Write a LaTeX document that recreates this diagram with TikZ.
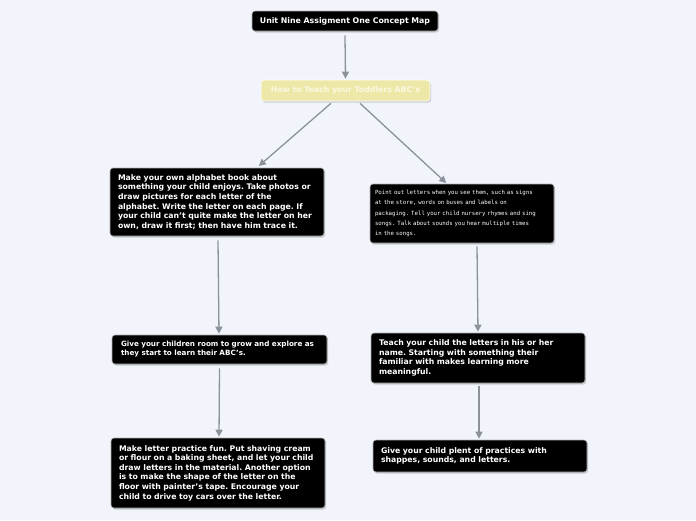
\documentclass[tikz,border=0pt]{standalone}
\usepackage{fontspec}
\setmainfont{DejaVu Sans}
\newfontfamily\monofont{DejaVu Sans Mono}
\usetikzlibrary{arrows.meta,shadows}
\frenchspacing
\definecolor{bg}{HTML}{F1F4FB}
\definecolor{conn}{HTML}{8C929C}
\definecolor{yel}{HTML}{EEE8A8}
\definecolor{yeltext}{HTML}{FBF8E2}
\tikzset{
  box/.style={draw=gray!60, line width=0.6pt, fill=black, rounded corners=3pt, text=white,
    font=\bfseries\fontsize{7.75}{9.6}\selectfont, align=left, inner xsep=8pt, inner ysep=0pt,
    drop shadow={shadow xshift=1.2pt, shadow yshift=-1.5pt, opacity=0.35, fill=gray}},
  conn/.style={draw=conn, line width=1.3pt, -{Triangle[length=7pt,width=7pt]}, shorten >=1pt},
}
\begin{document}
\begin{tikzpicture}[x=1pt,y=-1pt]
\fill[bg] (0,0) rectangle (696,520);
\useasboundingbox (0,0) rectangle (696,520);

\node[box, minimum width=186pt, minimum height=20pt, align=center, inner xsep=2pt, font=\bfseries\fontsize{7.8}{9}\selectfont] (title) at (345,21) {Unit Nine Assigment One Concept Map};

\node[box, fill=yel, draw=white, text=yeltext, minimum width=169pt, minimum height=21pt, align=center, inner xsep=2pt, font=\bfseries\fontsize{7.8}{9}\selectfont] (how) at (345.5,90.5) {How to Teach your Toddlers ABC’s};

\node[box, minimum width=214pt, minimum height=68pt, text width=198pt] (l1) at (217,202) {Make your own alphabet book about\\something your child enjoys. Take photos or\\draw pictures for each letter of the\\alphabet. Write the letter on each page. If\\your child can’t quite make the letter on her\\own, draw it first; then have him trace it.};

\node[box, minimum width=184pt, minimum height=59pt, text width=174pt, inner xsep=5pt, font=\monofont\fontsize{5.7}{10.4}\selectfont] (r1) at (462,213.5) {Point out letters when you see them, such as signs\\at the store, words on buses and labels on\\packaging. Tell your child nursery rhymes and sing\\songs. Talk about sounds you hear multiple times\\in the songs.};

\node[box, minimum width=215pt, minimum height=29pt, text width=197pt, inner xsep=9pt, font=\bfseries\fontsize{7.2}{9}\selectfont] (l2) at (219.5,349.5) {Give your children room to grow and explore as\\they start to learn their ABC’s.};

\node[box, minimum width=214pt, minimum height=50pt, text width=198pt] (r2) at (478,358) {Teach your child the letters in his or her\\name. Starting with something their\\familiar with makes learning more\\meaningful.};

\node[box, minimum width=214pt, minimum height=70pt, text width=198pt] (l3) at (218,473) {Make letter practice fun. Put shaving cream\\or flour on a baking sheet, and let your child\\draw letters in the material. Another option\\is to make the shape of the letter on the\\floor with painter’s tape. Encourage your\\child to drive toy cars over the letter.};

\node[box, minimum width=214pt, minimum height=32pt, text width=198pt] (r3) at (480,456) {Give your child plent of practices with\\shappes, sounds, and letters.};

\draw[conn] ([yshift=-4pt]title.south) -- (how.north);
\draw[conn] ([xshift=-14.5pt,yshift=-2pt]how.south) -- ([xshift=41pt,yshift=1pt]l1.north);
\draw[conn] ([xshift=14.5pt,yshift=-2pt]how.south) -- ([xshift=-15pt]r1.north);
\draw[conn] ([xshift=1pt,yshift=-4pt]l1.south) -- ([xshift=-0.5pt]l2.north);
\draw[conn] ([xshift=15pt,yshift=-3pt]r1.south) -- (r2.north);
\draw[conn] ([yshift=-4pt]l2.south) -- ([xshift=1pt]l3.north);
\draw[conn] ([xshift=1pt,yshift=-3pt]r2.south) -- ([xshift=-1pt]r3.north);
\end{tikzpicture}
\end{document}
